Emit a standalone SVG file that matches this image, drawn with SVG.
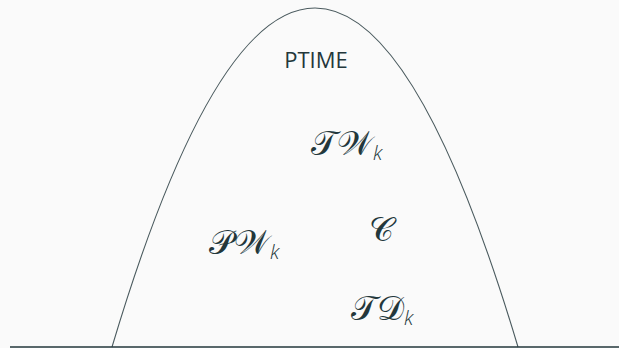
<svg xmlns="http://www.w3.org/2000/svg" width="619" height="348" viewBox="0 0 619 348">
<style>
.bg{fill:#fafafa}
.curve{fill:none;stroke:#4a5a5e;stroke-width:1.1}
.base{stroke:#23373b;stroke-width:1.6}
.lbl{font-family:"Open Sans","DejaVu Sans",sans-serif;fill:#23373b}
.math{font-family:"DejaVu Serif","Noto Sans","Liberation Serif",serif;fill:#23373b;font-size:34px;font-weight:normal}
.sub{font-family:"Open Sans","DejaVu Sans",sans-serif;font-style:italic;font-size:20px;font-weight:300}
</style>
<rect class="bg" width="619" height="348"/>
<g id="connectors">
<path class="curve" d="M112,347 Q315,-331 518,347"/>
<line class="base" x1="10" y1="347" x2="619" y2="347"/>
</g>
<g id="ptime"><text class="lbl" x="316" y="68" font-size="22" text-anchor="middle">PTIME</text></g>
<g id="tw"><text class="math" x="311" y="155">𝒯𝒲<tspan class="sub" dy="5">k</tspan></text></g>
<g id="pw"><text class="math" x="209" y="254">𝒫𝒲<tspan class="sub" dy="5">k</tspan></text></g>
<g id="c"><text class="math" x="369" y="241">𝒞</text></g>
<g id="td"><text class="math" x="351" y="320">𝒯𝒟<tspan class="sub" dy="5">k</tspan></text></g>
</svg>
